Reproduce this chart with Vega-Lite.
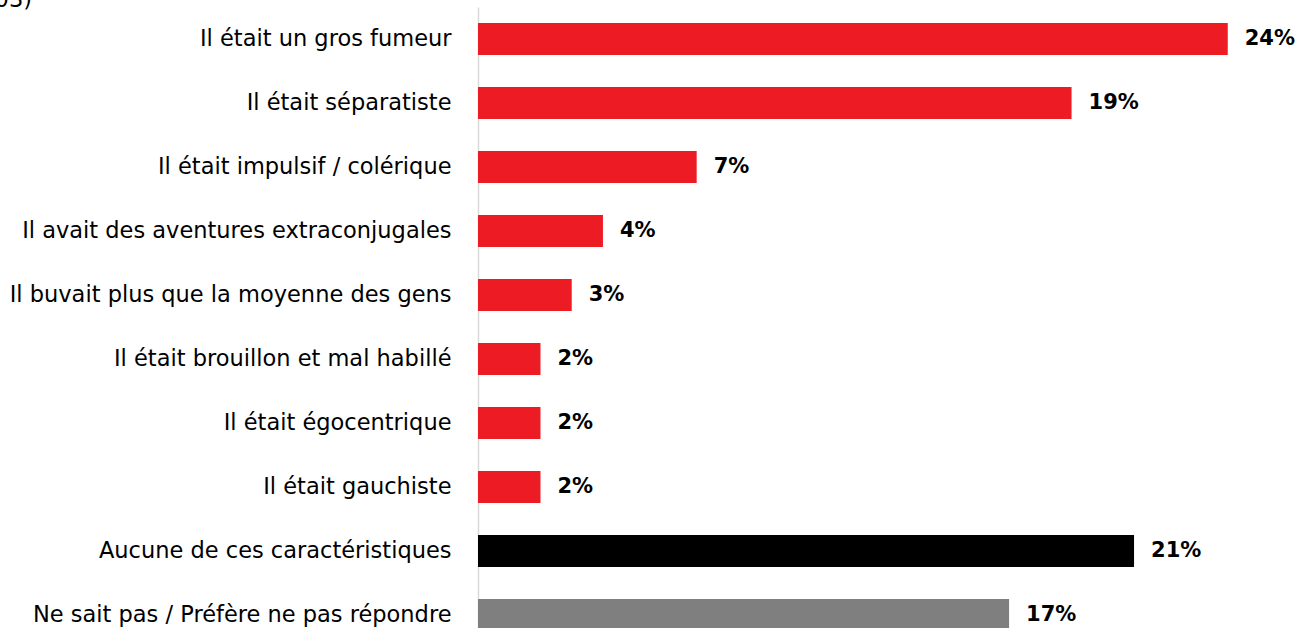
{
  "$schema": "https://vega.github.io/schema/vega-lite/v6.json",
  "autosize": "none",
  "width": 781,
  "height": 640,
  "padding": {"left": 478, "top": 7, "right": 40, "bottom": 0},
  "background": "white",
  "view": {"stroke": null},
  "title": {"text": "Base : ensemble des répondants (n=1003)", "anchor": "start", "align": "right", "frame": "group", "dx": -446, "dy": 22, "fontSize": 22.5, "font": "DejaVu Sans", "fontWeight": "normal", "color": "#000000", "offset": 0, "baseline": "alphabetic"},
  "data": {"values": [
    {"label": "Il était un gros fumeur", "value": 0.24, "group": "a"},
    {"label": "Il était séparatiste", "value": 0.19, "group": "a"},
    {"label": "Il était impulsif / colérique", "value": 0.07, "group": "a"},
    {"label": "Il avait des aventures extraconjugales", "value": 0.04, "group": "a"},
    {"label": "Il buvait plus que la moyenne des gens", "value": 0.03, "group": "a"},
    {"label": "Il était brouillon et mal habillé", "value": 0.02, "group": "a"},
    {"label": "Il était égocentrique", "value": 0.02, "group": "a"},
    {"label": "Il était gauchiste", "value": 0.02, "group": "a"},
    {"label": "Aucune de ces caractéristiques", "value": 0.21, "group": "b"},
    {"label": "Ne sait pas / Préfère ne pas répondre", "value": 0.17, "group": "c"}
  ]},
  "encoding": {
    "y": {"field": "label", "type": "nominal", "sort": null, "title": null,
      "scale": {"paddingInner": 0.5, "paddingOuter": 0.25},
      "axis": {"ticks": false, "domainColor": "#d9d9d9", "domainWidth": 1.5, "labelFont": "DejaVu Sans", "labelFontSize": 22.5, "labelColor": "#000000", "labelPadding": 27, "labelLimit": 600}},
    "x": {"field": "value", "type": "quantitative", "scale": {"domain": [0, 0.25]}, "axis": null}
  },
  "layer": [
    {"mark": {"type": "bar"},
     "encoding": {"color": {"field": "group", "type": "nominal", "scale": {"domain": ["a", "b", "c"], "range": ["#ED1C24", "#000000", "#7F7F7F"]}, "legend": null}}},
    {"mark": {"type": "text", "align": "left", "dx": 17, "font": "DejaVu Sans", "fontSize": 21, "fontWeight": "bold", "color": "#000000"},
     "encoding": {"text": {"field": "value", "type": "quantitative", "format": ".0%"}}}
  ]
}
